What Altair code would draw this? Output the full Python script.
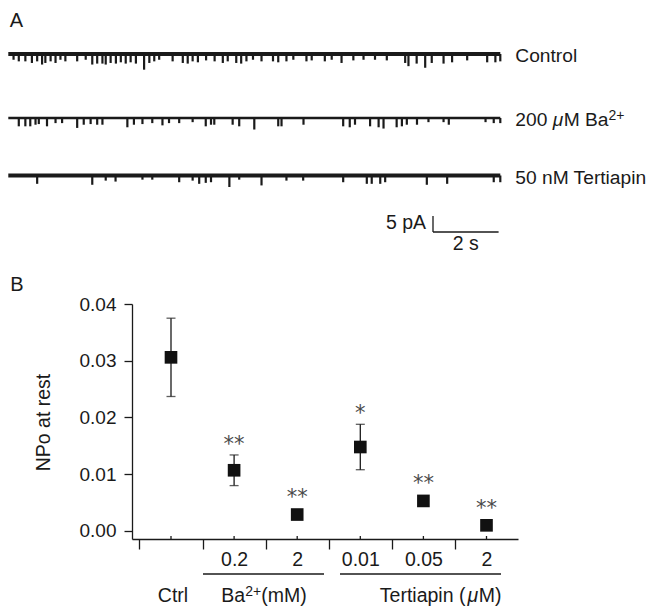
import altair as alt
import pandas as pd

# ------------------------------------------------------------------ data
# Panel A: single-channel recordings (time in s, downward opening amplitude in pA)
trace_labels = ["Control", "200 μM Ba2+", "50 nM Tertiapin"]
trace_seconds = 15.0

control_t = [0.16, 0.32, 0.52, 0.72, 0.88, 1.03, 1.13, 1.29, 1.44, 1.59,
             1.74, 2.10, 2.36, 2.56, 2.71, 2.87, 2.97, 3.12, 3.28, 3.43,
             3.58, 3.73, 3.89, 4.14, 4.30, 4.45, 4.60, 5.01, 5.32, 5.47,
             5.62, 5.78, 6.03, 6.29, 6.54, 6.69, 6.95, 7.10, 7.26, 7.46,
             7.72, 8.07, 8.23, 8.48, 8.69, 9.09, 9.25, 9.65, 9.86, 10.16,
             10.52, 10.83, 11.18, 11.54, 12.10, 12.20, 12.45, 12.71, 12.91, 13.27,
             13.53, 13.99, 14.60, 14.85, 15.00]
control_pA = [1.8, 2.3, 2.3, 2.8, 2.3, 3.3, 2.8, 2.3, 2.8, 1.8,
              2.3, 2.3, 1.8, 3.3, 3.0, 3.0, 3.3, 2.8, 3.0, 2.6,
              3.0, 2.6, 3.0, 4.9, 2.8, 2.3, 1.8, 2.3, 2.8, 3.0,
              2.3, 2.6, 2.0, 2.3, 2.8, 2.3, 2.8, 3.0, 2.3, 1.8,
              2.3, 2.3, 2.6, 2.3, 1.8, 2.3, 2.0, 2.3, 1.8, 2.8,
              2.0, 1.8, 1.8, 2.0, 2.8, 3.8, 3.0, 4.3, 2.8, 3.0,
              2.6, 2.0, 2.6, 2.6, 2.3]

barium_t = [0.32, 0.52, 0.67, 0.83, 0.93, 1.18, 1.44, 1.64, 2.10, 2.30,
            2.51, 2.71, 2.87, 3.63, 3.83, 4.09, 4.39, 4.70, 4.90, 5.21,
            5.62, 6.02, 6.18, 6.28, 6.84, 7.04, 7.50, 8.23, 8.33, 9.00,
            10.21, 10.41, 10.57, 11.03, 11.29, 11.44, 11.84, 12.00, 12.15, 12.46,
            12.81, 13.27, 13.43, 14.55, 14.80, 15.00]
barium_pA = [2.6, 2.6, 2.6, 2.1, 1.9, 2.6, 1.6, 1.6, 3.1, 2.1,
             1.9, 2.1, 2.1, 2.9, 2.1, 1.9, 1.6, 2.3, 1.6, 1.6,
             1.3, 2.6, 2.1, 2.1, 2.1, 2.6, 3.6, 2.6, 2.6, 2.1,
             2.6, 2.9, 2.1, 2.6, 2.9, 3.3, 2.9, 2.6, 2.1, 2.1,
             1.3, 1.3, 2.1, 1.3, 1.6, 1.6]

tertiapin_t = [0.88, 2.56, 2.97, 3.27, 4.09, 4.39, 5.21, 5.62, 5.82, 6.02,
               6.18, 6.74, 7.04, 7.72, 8.48, 8.99, 10.21, 10.93, 11.08, 11.34,
               11.49, 12.76, 13.38, 14.80, 15.00]
tertiapin_pA = [2.6, 2.9, 1.6, 1.9, 1.3, 1.3, 2.1, 1.6, 2.6, 2.3,
                2.1, 3.6, 1.3, 3.1, 1.6, 1.6, 2.1, 2.6, 2.6, 2.6,
                2.1, 2.9, 2.6, 2.1, 2.1]

scalebar_pA = 5
scalebar_s = 2

# Panel B: NPo at rest
conditions = ["Ctrl", "Ba 0.2 mM", "Ba 2 mM", "Tertiapin 0.01 µM",
              "Tertiapin 0.05 µM", "Tertiapin 2 µM"]
dose_labels = ["", "0.2", "2", "0.01", "0.05", "2"]
npo_mean = [0.0306, 0.0107, 0.0029, 0.0148, 0.0053, 0.0010]
npo_sem = [0.0069, 0.0027, 0.0006, 0.0040, 0.0004, 0.0003]
significance = ["", "**", "**", "*", "**", "**"]
y_ticks = [0.00, 0.01, 0.02, 0.03, 0.04]

# ------------------------------------------------------------------ layout / style
FONT = "Liberation Sans"
INK = "#1a1a1a"
FS = 19.5
TRACE_FS = 19.2
SUP_FS = 14
SUP_RISE = -6
W, H = 386, 235
SVG_W, SVG_H = 641, 598                  # fits the page without scrolling
SHIFT_X, SHIFT_Y = -3, -5                # small global shift so everything fits
ORIGIN_X, ORIGIN_Y = 135, 309            # reference position of panel B plot area
PAD = {"left": ORIGIN_X - 8 + SHIFT_X, "top": ORIGIN_Y - 8 + SHIFT_Y}
PAD["right"] = SVG_W - PAD["left"] - W
PAD["bottom"] = SVG_H - PAD["top"] - H

# panel A geometry
PX_PER_S = 32.8
PX_PER_PA = 3.2
TRACE_X0 = 11.3                           # x of t = 0
trace_base_y = [59, 123, 180.5]          # y of the closed level of each trace
trace_stroke = [4.0, 2.6, 4.2]
offsets = [-(b - trace_base_y[0]) / PX_PER_PA for b in trace_base_y]
TX = alt.Scale(domain=[(ORIGIN_X - TRACE_X0) / PX_PER_S,
                       (ORIGIN_X + W - TRACE_X0) / PX_PER_S], nice=False, zero=False)
_d1 = (trace_base_y[0] - ORIGIN_Y) / PX_PER_PA
TY = alt.Scale(domain=[_d1 - H / PX_PER_PA, _d1], nice=False, zero=False)
SB_T0 = (436 - TRACE_X0) / PX_PER_S
SB_V0 = -(237 - trace_base_y[0]) / PX_PER_PA

# panel B geometry
PX_PER_IDX = 63.1
IDX0_X = 174
BX = alt.Scale(domain=[(ORIGIN_X - IDX0_X) / PX_PER_IDX, (ORIGIN_X + W - IDX0_X) / PX_PER_IDX],
               nice=False, zero=False)
BY = alt.Scale(domain=[-0.00141, 0.04], nice=False, zero=False)
group_spans = [(0.507, 2.425), (2.678, 5.230)]

ARIAL = {' ': 278, '.': 278, '+': 584, '(': 333, ')': 333, 'μ': 576, 'M': 833, 'B': 667,
         'a': 556, 'm': 833, 'T': 611, 'e': 556, 'r': 333, 't': 278, 'i': 222, 'p': 556,
         'n': 556, 'C': 722, 'l': 222, 'o': 556, 's': 500, 'A': 667}


def text_width(s, size):
    return sum(ARIAL.get(c, 556) for c in s) / 1000 * size


def text_run(segments, x, y, anchor="left", dx=0.0, dy=0.0, size=FS):
    sizes = [SUP_FS if st == "sup" else size for _, st in segments]
    total = sum(text_width(s, fs) for (s, _), fs in zip(segments, sizes))
    cur = dx if anchor == "left" else dx - total / 2
    out = []
    for (s, st), fs in zip(segments, sizes):
        out.append(
            alt.Chart(alt.Data(values=[{"s": s}])).mark_text(
                font=FONT, fontSize=fs, fontStyle="italic" if st == "i" else "normal",
                align="left", baseline="alphabetic", color=INK,
                dx=cur, dy=dy + (SUP_RISE if st == "sup" else 0)
            ).encode(x=x, y=y, text="s:N")
        )
        cur += text_width(s, fs)
    return out


layers = []

# ------------------------------------------------------------------ panel A
base_df = pd.DataFrame({"trace": trace_labels, "t0": 0.0, "t1": trace_seconds,
                        "v": offsets, "w": trace_stroke})
layers.append(
    alt.Chart(base_df).mark_rule(color=INK).encode(
        x=alt.X("t0:Q", scale=TX, axis=None), x2="t1:Q",
        y=alt.Y("v:Q", scale=TY, axis=None),
        strokeWidth=alt.StrokeWidth("w:Q", scale=None, legend=None))
)

rows = []
for name, ts, amps, off in zip(trace_labels, [control_t, barium_t, tertiapin_t],
                               [control_pA, barium_pA, tertiapin_pA], offsets):
    for t, a in zip(ts, amps):
        rows.append({"trace": name, "t": t, "v0": off, "v1": off - a})
spike_df = pd.DataFrame(rows)
layers.append(
    alt.Chart(spike_df).mark_rule(color=INK, strokeWidth=2.2).encode(
        x=alt.X("t:Q", scale=TX, axis=None),
        y=alt.Y("v0:Q", scale=TY, axis=None), y2="v1:Q")
)

label_segments = [
    [("Control", "n")],
    [("200 ", "n"), ("μ", "i"), ("M Ba", "n"), ("2+", "sup")],
    [("50 nM Tertiapin", "n")],
]
for segs, off in zip(label_segments, offsets):
    layers += text_run(segs,
                       alt.XDatum(trace_seconds, type="quantitative", scale=TX, axis=None),
                       alt.YDatum(off, type="quantitative", scale=TY, axis=None),
                       dx=15, dy=8, size=TRACE_FS)

# scale bar
sb_df = pd.DataFrame({"t0": [SB_T0, SB_T0], "t1": [SB_T0, SB_T0 + scalebar_s],
                      "v0": [SB_V0, SB_V0], "v1": [SB_V0 + scalebar_pA, SB_V0]})
layers.append(
    alt.Chart(sb_df).mark_rule(color=INK, strokeWidth=1.3).encode(
        x=alt.X("t0:Q", scale=TX, axis=None), x2="t1:Q",
        y=alt.Y("v0:Q", scale=TY, axis=None), y2="v1:Q")
)
layers.append(
    alt.Chart(alt.Data(values=[{"s": f"{scalebar_pA} pA"}])).mark_text(
        font=FONT, fontSize=FS, color=INK, align="right", baseline="alphabetic", dx=-7, dy=-3
    ).encode(x=alt.XDatum(SB_T0, type="quantitative", scale=TX, axis=None),
             y=alt.YDatum(SB_V0, type="quantitative", scale=TY, axis=None), text="s:N")
)
layers.append(
    alt.Chart(alt.Data(values=[{"s": f"{scalebar_s} s"}])).mark_text(
        font=FONT, fontSize=FS, color=INK, align="center", baseline="alphabetic", dy=18
    ).encode(x=alt.XDatum(SB_T0 + scalebar_s / 2, type="quantitative", scale=TX, axis=None),
             y=alt.YDatum(SB_V0, type="quantitative", scale=TY, axis=None), text="s:N")
)

# panel letters
for letter, px, py in [("A", 12.7 - ORIGIN_X, 32.3 - ORIGIN_Y), ("B", 13.3 - ORIGIN_X, 296 - ORIGIN_Y)]:
    layers.append(
        alt.Chart(alt.Data(values=[{"s": letter}])).mark_text(
            font=FONT, fontSize=20, color=INK, align="left", baseline="alphabetic"
        ).encode(x=alt.value(px), y=alt.value(py), text="s:N")
    )

# ------------------------------------------------------------------ panel B
npo_df = pd.DataFrame({"condition": conditions, "idx": list(range(len(conditions))),
                       "mean": npo_mean, "sem": npo_sem, "sig": significance})
npo_df["lo"] = npo_df["mean"] - npo_df["sem"]
npo_df["hi"] = npo_df["mean"] + npo_df["sem"]

base = alt.Chart(npo_df)

# error bars (this layer also carries the dose labels under the axis)
layers.append(
    base.mark_rule(color=INK, strokeWidth=1.3).encode(
        x=alt.X("idx:Q", scale=BX,
                axis=alt.Axis(orient="bottom", values=list(range(1, len(dose_labels))),
                              labelExpr="[" + ",".join(f"'{d}'" for d in dose_labels) + "][round(datum.value)]",
                              ticks=False, tickSize=0, domain=False, grid=False,
                              labelPadding=26, labelBaseline="alphabetic",
                              labelFont=FONT, labelFontSize=FS, labelColor=INK, title=None)),
        y=alt.Y("lo:Q", scale=BY, axis=None), y2="hi:Q")
)
for end in ["lo", "hi"]:
    layers.append(
        base.mark_tick(color=INK, orient="horizontal", size=9, thickness=1.3).encode(
            x=alt.X("idx:Q", scale=BX, axis=None),
            y=alt.Y(f"{end}:Q", scale=BY, axis=None))
    )

# mean squares, carrying both main axes
layers.append(
    base.mark_square(color="#111111", opacity=1, size=160).encode(
        x=alt.X("idx:Q", scale=BX,
                axis=alt.Axis(orient="bottom", values=[i - 0.5 for i in range(len(conditions) + 1)],
                              labels=False, tickSize=10, tickWidth=1.3, tickColor=INK,
                              domainColor=INK, domainWidth=1.3, grid=False, title=None)),
        y=alt.Y("mean:Q", scale=BY,
                axis=alt.Axis(orient="left", values=y_ticks, format=".2f", tickSize=8,
                              tickWidth=1.3, tickColor=INK, domainColor=INK, domainWidth=1.3,
                              labelFont=FONT, labelFontSize=19, labelColor=INK, labelPadding=8,
                              grid=False, title="NPo at rest", titleFont=FONT,
                              titleFontSize=FS, titleFontWeight="normal", titleColor=INK,
                              titleAngle=270, titleX=-83, titleY=118,
                              titleAlign="center", titleBaseline="alphabetic")))
)

# small inward ticks at the data positions
layers.append(
    base.mark_rule(color=INK, strokeWidth=1.3).encode(
        x=alt.X("idx:Q", scale=BX, axis=None), y=alt.value(H), y2=alt.value(H - 3))
)

# significance stars
layers.append(
    base.transform_calculate(top="max(datum.hi, datum.mean + 0.0012)").mark_text(
        font="DejaVu Sans", fontSize=21, color="#4a4a4a", align="center",
        baseline="alphabetic", dy=-4
    ).encode(x=alt.X("idx:Q", scale=BX, axis=None),
             y=alt.Y("top:Q", scale=BY, axis=None), text="sig:N")
)

# group brackets and group labels
span_df = pd.DataFrame({"a": [s[0] for s in group_spans], "b": [s[1] for s in group_spans]})
layers.append(
    alt.Chart(span_df).mark_rule(color=INK, strokeWidth=1.3).encode(
        x=alt.X("a:Q", scale=BX, axis=None), x2="b:Q", y=alt.value(579 - ORIGIN_Y))
)
group_label_segments = [
    (0.032, [("Ctrl", "n")]),
    (1.474, [("Ba", "n"), ("2+", "sup"), ("(mM)", "n")]),
    (4.274, [("Tertiapin (", "n"), ("μ", "i"), ("M)", "n")]),
]
for pos, segs in group_label_segments:
    layers += text_run(segs, alt.XDatum(pos, type="quantitative", scale=BX, axis=None),
                       alt.value(607 - ORIGIN_Y), anchor="center")

chart = alt.layer(*layers).resolve_scale(
    x="independent", y="independent"
).resolve_axis(
    x="independent", y="independent"
).properties(
    width=W, height=H, padding=PAD, autosize=alt.AutoSizeParams(type="none"),
    background="white"
).configure_view(stroke=None)

chart.save("out.html", embed_options={"renderer": "svg", "actions": False})
